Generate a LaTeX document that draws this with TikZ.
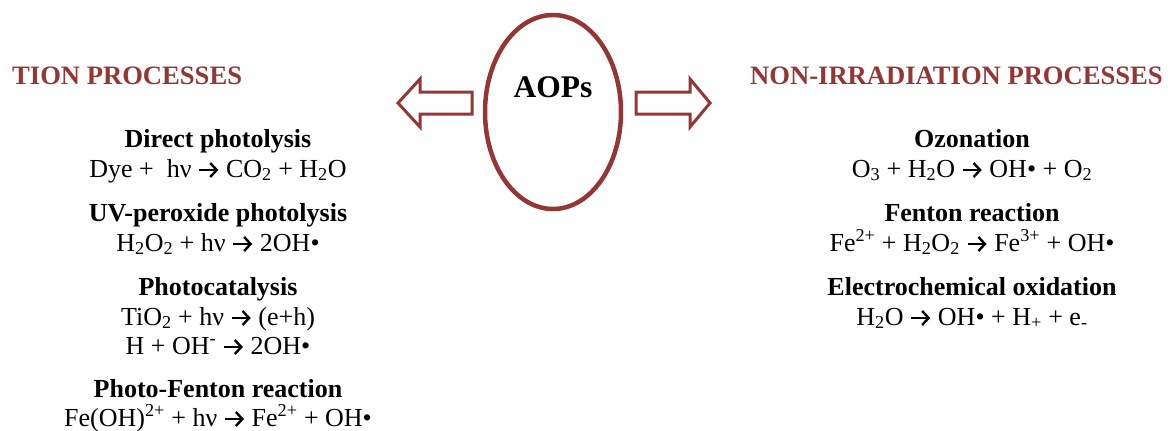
\documentclass[tikz,border=0pt]{standalone}
\usepackage{fontspec}
\setmainfont{Liberation Serif}
\usetikzlibrary{shapes.geometric,arrows.meta}
\definecolor{aopred}{RGB}{148,54,52}
\newcommand{\yields}{\tikz[x=1pt, y=1pt, baseline=-7pt] \draw [line width=2.4pt, -{Straight Barb[length=6.5pt, width=14pt, line width=2.4pt]}] (0,0) -- (19,0);}
\newcommand{\sub}[1]{\textsubscript{#1}}
\newcommand{\super}[1]{\textsuperscript{#1}}

\begin{document}
\begin{tikzpicture}
    [x=1pt, y=-1pt,
    every node/.style={font=\fontsize{26}{30}\selectfont, inner sep=0pt},
    heading/.style={font=\fontsize{26.6}{30}\selectfont\bfseries, text=aopred, anchor=base west},
    process/.style={font=\fontsize{26}{30}\selectfont\bfseries, anchor=base},
    reaction/.style={anchor=base},
    ring/.style={ellipse, draw=aopred, line width=4.5pt, minimum width=136, minimum height=194},
    fatarrow/.style={draw=aopred, line width=3pt, line join=miter}
    ]
    \useasboundingbox (0,0) rectangle (1168,431);

    \node (ring) [ring] at (553,112) {};
    \node (aops) [font=\fontsize{31.5}{36}\selectfont\bfseries] at (553,87) {AOPs};
    \draw [fatarrow] (472,92) -- (420,92) -- (420,79) -- (398,103) -- (420,127) -- (420,114) -- (472,114) -- cycle;
    \draw [fatarrow] (636,92) -- (690,92) -- (690,79) -- (710,103) -- (690,127) -- (690,114) -- (636,114) -- cycle;

    \node (irr) [heading] at (12,84) {TION PROCESSES};
    \node (nonirr) [heading] at (750,84) {NON-IRRADIATION PROCESSES};

    \node (direct) [process] at (218,147) {Direct photolysis};
    \node (directr) [reaction] at (218,177) {Dye +\ \ hν \yields{} CO\sub{2} + H\sub{2}O};
    \node (uvper) [process] at (218,221) {UV-peroxide photolysis};
    \node (uvperr) [reaction] at (218,251) {H\sub{2}O\sub{2} + hν \yields{} 2OH•};
    \node (photocat) [process] at (218,295) {Photocatalysis};
    \node (photocatr) [reaction] at (218,325) {TiO\sub{2} + hν \yields{} (e+h)};
    \node (photocatrr) [reaction] at (218,354) {H + OH\super{-} \yields{} 2OH•};
    \node (phfenton) [process] at (218,397) {Photo-Fenton reaction};
    \node (phfentonr) [reaction] at (218,426) {Fe(OH)\super{2+} + hν \yields{} Fe\super{2+} + OH•};

    \node (ozone) [process] at (972,147) {Ozonation};
    \node (ozoner) [reaction] at (972,177) {O\sub{3} + H\sub{2}O \yields{} OH• + O\sub{2}};
    \node (fenton) [process] at (972,221) {Fenton reaction};
    \node (fentonr) [reaction] at (972,251) {Fe\super{2+} + H\sub{2}O\sub{2} \yields{} Fe\super{3+} + OH•};
    \node (electro) [process] at (972,295) {Electrochemical oxidation};
    \node (electror) [reaction] at (972,325) {H\sub{2}O \yields{} OH• + H\sub{+} + e\sub{-}};
\end{tikzpicture}
\end{document}
